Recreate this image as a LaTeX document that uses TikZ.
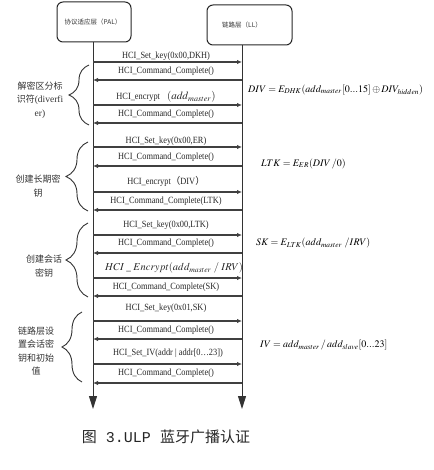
\documentclass[tikz,border=0pt]{standalone}
\usepackage{mathptmx}
\usepackage{fontspec}
\setmainfont{Liberation Serif}
\newfontfamily\cjk{Noto Sans CJK SC}
\newfontfamily\capmono{Liberation Mono}
\newfontfamily\lblfont[FakeStretch=0.88]{Liberation Serif}
\usetikzlibrary{arrows.meta,decorations.pathreplacing}
\tikzset{
  lifeline/.style={draw=black!80, line width=1pt, -{Triangle[length=13pt,width=8pt]}},
  msg/.style={draw=black!75, line width=1.1pt, -{Latex[length=5pt,width=4.5pt]}},
  lbl/.style={font=\lblfont\fontsize{9.5}{11}\selectfont, text=black!85, inner sep=0pt},
  layerbox/.style={draw=black!85, line width=1pt, rounded corners=6pt},
  boxlbl/.style={font=\cjk\fontsize{6.5}{8}\selectfont, text=black!80, inner sep=0pt},
  side/.style={font=\cjk\fontsize{9}{13.5}\selectfont, text=black!80, align=center, inner sep=0pt},
  brc/.style={draw=black!80, line width=0.9pt, decorate, decoration={brace, amplitude=#1, aspect=0.5}},
  formula/.style={font=\fontsize{10}{12}\selectfont, anchor=west, inner sep=0pt}
}
\begin{document}
\begin{tikzpicture}[x=1pt,y=-1pt]
\useasboundingbox (0,0) rectangle (433,470);
% layer boxes
\draw[layerbox] (57,2) rectangle (131,42);
\node[boxlbl] (pal) at (93,22) {协议适应层（PAL）};
\draw[layerbox] (207,5) rectangle (292,45);
\node[boxlbl] (ll) at (242,25) {链路层（LL）};
% lifelines
\coordinate (Ltop) at (93,42);
\coordinate (Lbot) at (93,409);
\coordinate (Rtop) at (242,45);
\coordinate (Rbot) at (242,409);
\draw[lifeline] (Ltop) -- (Lbot);
\draw[lifeline] (Rtop) -- (Rbot);
% messages
\foreach \n/\y in {1/62,2/80,3/105,4/123,5/147,6/166,7/192,8/210,9/235,10/253,11/278,12/296,13/321,14/339,15/364,16/383}{
  \coordinate (L\n) at (93,\y);
  \coordinate (R\n) at (242,\y);
}
\draw[msg] (L1) -- (R1);
\draw[msg] (R2) -- (L2);
\draw[msg] (L3) -- (R3);
\draw[msg] (R4) -- (L4);
\draw[msg] (L5) -- (R5);
\draw[msg] (R6) -- (L6);
\draw[msg] (L7) -- (R7);
\draw[msg] (R8) -- (L8);
\draw[msg] (L9) -- (R9);
\draw[msg] (R10) -- (L10);
\draw[msg] (L11) -- (R11);
\draw[msg] (R12) -- (L12);
\draw[msg] (L13) -- (R13);
\draw[msg] (R14) -- (L14);
\draw[msg] (L15) -- (R15);
\draw[msg] (R16) -- (L16);
% message labels
\node[lbl] (m1) at (166,56) {HCI\_Set\_key(0x00,DKH)};
\node[lbl] (m2) at (166,71) {HCI\_Command\_Complete()};
\node[lbl] (m3) at (166,97) {HCI\_encrypt\hspace{7pt}{\fontsize{11}{12}\selectfont$(\mathbf{\mathit{add}}_{master})$}};
\node[lbl] (m4) at (166,114) {HCI\_Command\_Complete()};
\node[lbl] (m5) at (166,141) {HCI\_Set\_key(0x00,ER)};
\node[lbl] (m6) at (166,157) {HCI\_Command\_Complete()};
\node[lbl] (m7) at (166,181) {HCI\_encrypt{\cjk （}DIV{\cjk ）}};
\node[lbl] (m8) at (166,201) {HCI\_Command\_Complete(LTK)};
\node[lbl] (m9) at (166,225) {HCI\_Set\_key(0x00,LTK)};
\node[lbl] (m10) at (166,243) {HCI\_Command\_Complete()};
\node[lbl] (m11) at (174,268) {\fontsize{10.5}{12}\selectfont$HCI\ \_\ Encrypt(add_{master}\ /\ IRV)$};
\node[lbl] (m12) at (166,287) {HCI\_Command\_Complete(SK)};
\node[lbl] (m13) at (166,308) {HCI\_Set\_key(0x01,SK)};
\node[lbl] (m14) at (166,330) {HCI\_Command\_Complete()};
\node[lbl] (m15) at (168,353) {HCI\_Set\_IV(addr | addr[0\dots23])};
\node[lbl] (m16) at (166,373) {HCI\_Command\_Complete()};
% braces
\coordinate (b1t) at (89,65);  \coordinate (b1b) at (89,125);
\coordinate (b2t) at (88,142); \coordinate (b2b) at (88,211);
\coordinate (b3t) at (88,223); \coordinate (b3b) at (88,297);
\coordinate (b4t) at (82,312); \coordinate (b4b) at (82,382);
\draw[brc=20pt] (b1b) -- (b1t);
\draw[brc=22pt] (b2b) -- (b2t);
\draw[brc=22pt] (b3b) -- (b3t);
\draw[brc=20pt] (b4b) -- (b4t);
% side labels
\node[side] (s1) at (40,100) {解密区分标\\识符{\rmfamily\fontsize{9.5}{13.5}\selectfont (diverfi}\\{\rmfamily\fontsize{9.5}{13.5}\selectfont er)}};
\node[side] (s2) at (38,186) {创建长期密\\钥};
\node[side] (s3) at (44,266) {创建会话\\密钥};
\node[side] (s4) at (36,351) {链路层设\\置会话密\\钥和初始\\值};
% formulas
\node[formula] (f1) at (248,90) {$DIV = E_{DHK}(add_{master}[0...15] \oplus DIV_{hidden})$};
\node[formula] (f2) at (261,164) {$LTK = E_{ER}(DIV\,/0)$};
\node[formula] (f3) at (256,243) {$SK = E_{LTK}(add_{master}\ /IRV)$};
\node[formula] (f4) at (260,345) {$IV = add_{master}\,/\,add_{slave}[0...23]$};
% caption
\node[font=\cjk\fontsize{15}{17}\selectfont, text=black!85, inner sep=0pt] (cap) at (166,437) {图{\capmono\ 3.ULP\ }蓝牙广播认证};
\end{tikzpicture}
\end{document}
